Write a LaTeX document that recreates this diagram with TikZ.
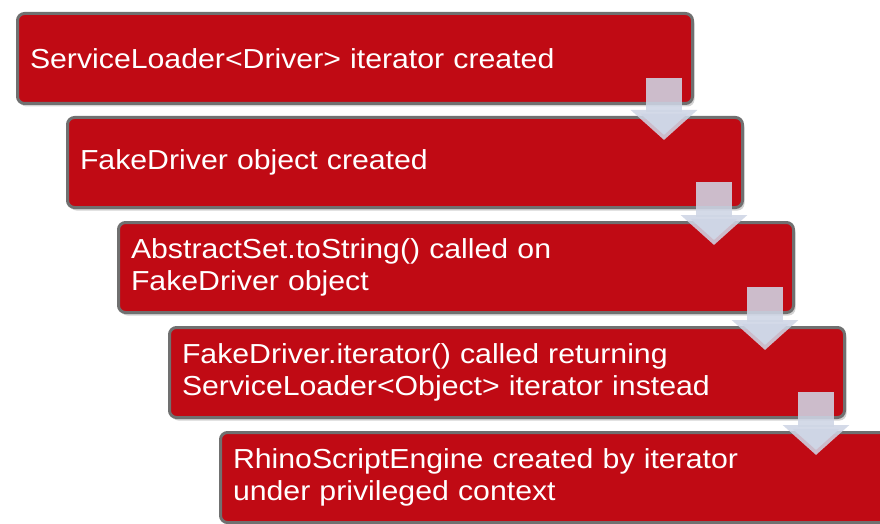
\documentclass[tikz,border=0pt]{standalone}
\usepackage{fontspec}
\setmainfont{Liberation Sans}[FakeStretch=1.1]
\usetikzlibrary{arrows.meta,shadows}
\definecolor{boxred}{RGB}{192,10,20}
\definecolor{boxedge}{RGB}{112,112,112}
\definecolor{flowfill}{RGB}{206,213,229}
\begin{document}
\begin{tikzpicture}[
            x=1pt, y=-1pt,
            stage/.style={rectangle, draw=boxedge, line width=3pt, fill=boxred,
              rounded corners=7pt, anchor=north west, text=white, align=left,
              text width=650pt, inner xsep=12.5pt, minimum height=90pt,
              font=\fontsize{27.5}{32}\selectfont,
              drop shadow={opacity=0.35, shadow xshift=2pt, shadow yshift=-3pt}},
            flow/.style={draw=flowfill, line width=36pt, draw opacity=0.88,
              -{Triangle[length=30pt, width=65pt]}}
            ]
            \useasboundingbox (0,0) rectangle (880,524);
            \node[stage] (s1) at (16,12) {ServiceLoader<Driver> iterator created};
            \node[stage] (s2) at (66,116) {FakeDriver object created};
            \node[stage] (s3) at (117,221) {AbstractSet.toString() called on\\FakeDriver object};
            \node[stage] (s4) at (168,326) {FakeDriver.iterator() called returning\\ServiceLoader<Object> iterator instead};
            \node[stage] (s5) at (219,431) {RhinoScriptEngine created by iterator\\under privileged context};
            % arrows between the stages
            \foreach \a/\b in {s1/s2, s2/s3, s3/s4, s4/s5}
              \draw[flow] ([xshift=-30pt, yshift=-66pt]\a.north east)
                -- ([xshift=-30pt, yshift=-24pt]\b.north east -| \a.north east);
\end{tikzpicture}
\end{document}
